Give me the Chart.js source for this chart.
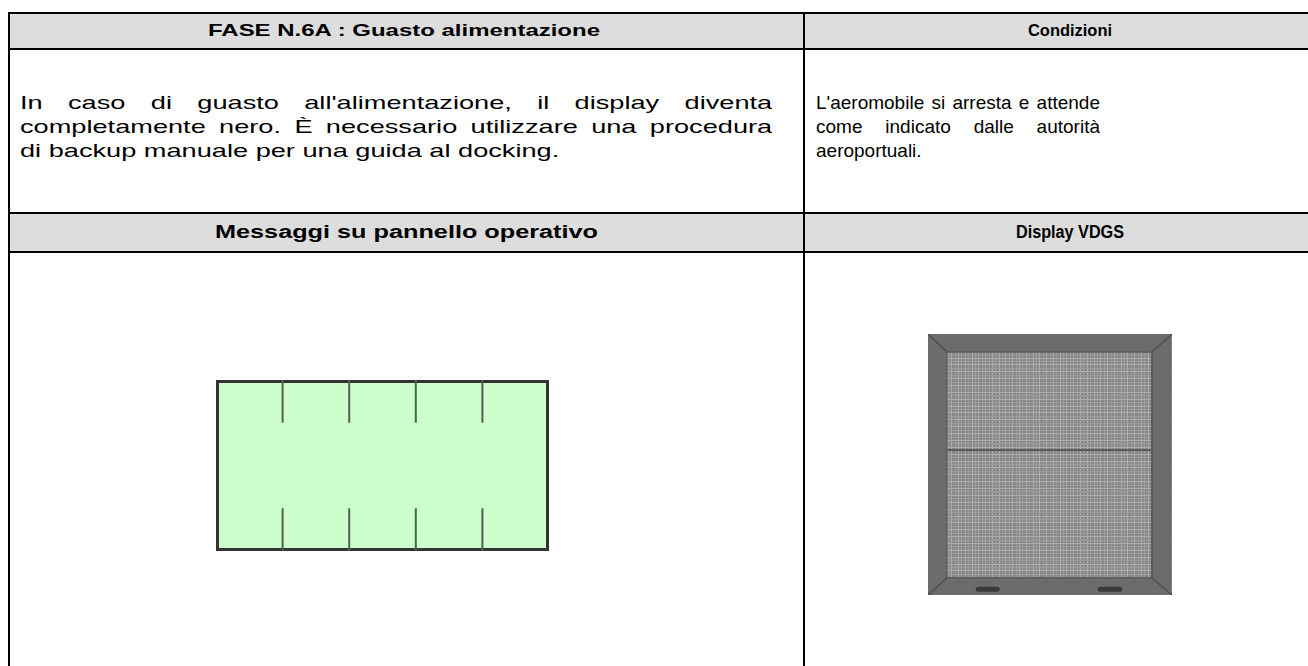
<!DOCTYPE html>
<html>
<head>
<meta charset="utf-8">
<script src="https://cdn.jsdelivr.net/npm/chart.js@4.4.1/dist/chart.umd.min.js"></script>
<style>
  html, body { margin:0; padding:0; background:#ffffff; width:1308px; height:666px; overflow:hidden; }
  body { position:relative; font-family:"Liberation Sans", Arial, sans-serif; color:#000; }
  .hline { position:absolute; left:8px; width:1330px; height:2px; background:#000; }
  .vline { position:absolute; top:12px; width:2px; height:660px; background:#000; }
  .hdr { position:absolute; left:10px; width:1330px; background:#dddddd; }
  .run { position:absolute; white-space:nowrap; transform-origin:0 50%; }
  .b { font-weight:bold; }
  .body { font-size:19px; line-height:24px; }
  .just { text-align:justify; text-align-last:justify; white-space:normal; height:24px; overflow:hidden; }
  canvas { position:absolute; }
</style>
</head>
<body>
<div class="hdr" style="top:14px;height:34px;"></div>
<div class="hdr" style="top:214px;height:37px;"></div>
<div class="hline" style="top:12px;"></div>
<div class="hline" style="top:48px;"></div>
<div class="hline" style="top:212px;"></div>
<div class="hline" style="top:251px;"></div>
<div class="vline" style="left:8px;"></div>
<div class="vline" style="left:803px;"></div>

<!-- headers: data-cx = centre, data-w = width of the run in the page -->
<span class="run b fit" data-cx="404" data-w="392" style="top:21px;font-size:17px;line-height:20px;">FASE N.6A : Guasto alimentazione</span>
<span class="run b fit" data-cx="1070" data-w="84" style="top:21px;font-size:17px;line-height:20px;">Condizioni</span>
<span class="run b fit" data-cx="406" data-w="383" style="top:221px;font-size:18px;line-height:22px;">Messaggi su pannello operativo</span>
<span class="run b fit" data-cx="1070" data-w="108" style="top:221px;font-size:18px;line-height:22px;">Display VDGS</span>

<!-- left column text, horizontally stretched like the reference -->
<div class="run body just" style="left:20px;top:91px;width:526px;transform:scaleX(1.43);">In caso di guasto all'alimentazione, il display diventa</div>
<div class="run body just" style="left:20px;top:115px;width:526px;transform:scaleX(1.43);">completamente nero. È necessario utilizzare una procedura</div>
<div class="run body" style="left:20px;top:139px;transform:scaleX(1.43);">di backup manuale per una guida al docking.</div>

<!-- right column text -->
<div class="run body just" style="left:816px;top:91px;width:284px;">L'aeromobile si arresta e attende</div>
<div class="run body just" style="left:816px;top:115px;width:284px;">come indicato dalle autorità</div>
<div class="run body" style="left:816px;top:139px;">aeroportuali.</div>

<canvas id="panel" width="345" height="183" style="left:210px;top:374px;width:345px;height:183px;"></canvas>
<canvas id="vdgs" width="244" height="261" style="left:928px;top:334px;width:244px;height:261px;background:#888888;"></canvas>

<script>
// fit centred header runs to their width in the reference
document.querySelectorAll('.fit').forEach(el => {
  const natural = el.getBoundingClientRect().width;
  const w = +el.dataset.w, cx = +el.dataset.cx;
  el.style.left = (cx - w / 2) + 'px';
  el.style.transform = 'scaleX(' + (w / natural) + ')';
});

// ---- Operator panel (green) ----
const panelSlots = [0, 1, 2, 3, 4, 5];          // slot boundaries along the panel
const panelDividers = [1, 2, 3, 4];             // divider marks between slots
const dividerReach = 0.25;                       // fraction of panel height covered by each mark
const panelHeight = [0, 1];

// ---- VDGS display ----
const screenColumns = 72;                        // mesh columns
const screenRows = 76;                           // mesh rows
const frameRing = [[2.8, 38], [2.8, 73.4], [69.05, 73.4], [69.05, 2.48], [2.8, 2.48], [2.8, 38]];
const innerScreen = [[5.6, 38], [5.6, 70.76], [66.1, 70.76], [66.1, 4.95], [5.6, 4.95], [5.6, 38]];
const outerCorners = [[0, 0], [0, 76], [72, 76], [72, 0]];
const innerCorners = [[5.6, 4.95], [5.6, 70.76], [66.1, 70.76], [66.1, 4.95]];
const screenSplit = [[5.6, 42.2], [66.1, 42.2]];
const frameSlots = [[[14.8, 1.7], [20.4, 1.7]], [[50.8, 1.7], [56.6, 1.7]]];

const pts = arr => arr.map(p => ({x: p[0], y: p[1]}));

// Panel chart
(function(){
  const lo = panelHeight[0], hi = panelHeight[1];
  const first = panelSlots[0], last = panelSlots[panelSlots.length - 1];
  const marks = [];
  panelDividers.forEach(p => {
    marks.push({x:p, y:hi}, {x:p, y:hi - dividerReach}, {x:p, y:null});
    marks.push({x:p, y:lo}, {x:p, y:lo + dividerReach}, {x:p, y:null});
  });
  const face = [{x:first, y:hi}, {x:last, y:hi}];
  const outline = [{x:first,y:(lo+hi)/2},{x:first,y:hi},{x:last,y:hi},{x:last,y:lo},{x:first,y:lo},{x:first,y:(lo+hi)/2}];
  new Chart(document.getElementById('panel'), {
    type: 'line',
    data: { datasets: [
      { label:'dividers', data: marks, borderColor:'#4f624f', borderWidth:2, pointRadius:0, spanGaps:false, fill:false, order:1 },
      { label:'outline', data: outline, borderColor:'#333333', borderWidth:6, fill:false, pointRadius:0, borderJoinStyle:'miter', order:2 },
      { label:'face', data: face, borderWidth:0, borderColor:'rgba(0,0,0,0)', backgroundColor:'#ccffcc', fill:'origin', pointRadius:0, order:3 }
    ]},
    options: {
      responsive:false, animation:false, devicePixelRatio:1,
      layout:{ padding:6 },
      plugins:{ legend:{display:false}, tooltip:{enabled:false} },
      scales:{
        x:{ type:'linear', min:first, max:last, display:false },
        y:{ type:'linear', min:lo, max:hi, display:false }
      }
    }
  });
})();

// VDGS chart
(function(){
  const grid = () => ({ display:true, color:(c)=> (c.index % 2 ? '#adadad' : '#9c9c9c'), lineWidth:1, drawTicks:false });
  new Chart(document.getElementById('vdgs'), {
    type: 'line',
    data: { datasets: [
      ...frameSlots.map(s => ({ data: pts(s), borderColor:'#3a3a3a', borderWidth:5, pointRadius:0, borderCapStyle:'round', order:0 })),
      { data: pts(screenSplit), borderColor:'#5a5a5a', borderWidth:2, pointRadius:0, order:1 },
      ...outerCorners.map((c, i) => ({ data: pts([c, innerCorners[i]]), borderColor:'#4f4f4f', borderWidth:1.5, pointRadius:0, order:1 })),
      { data: pts(innerScreen), borderColor:'#555555', borderWidth:1, pointRadius:0, order:1 },
      { data: pts(frameRing), borderColor:'#6c6c6c', borderWidth:19, pointRadius:0, borderJoinStyle:'miter', order:3 }
    ]},
    options: {
      responsive:false, animation:false, devicePixelRatio:1,
      layout:{ padding:0 },
      plugins:{ legend:{display:false}, tooltip:{enabled:false} },
      scales:{
        x:{ type:'linear', min:0, max:screenColumns, ticks:{display:false, stepSize:1, maxTicksLimit:500}, grid:grid(), border:{display:false} },
        y:{ type:'linear', min:0, max:screenRows, ticks:{display:false, stepSize:1, maxTicksLimit:500}, grid:grid(), border:{display:false} }
      }
    }
  });
})();
</script>
</body>
</html>
